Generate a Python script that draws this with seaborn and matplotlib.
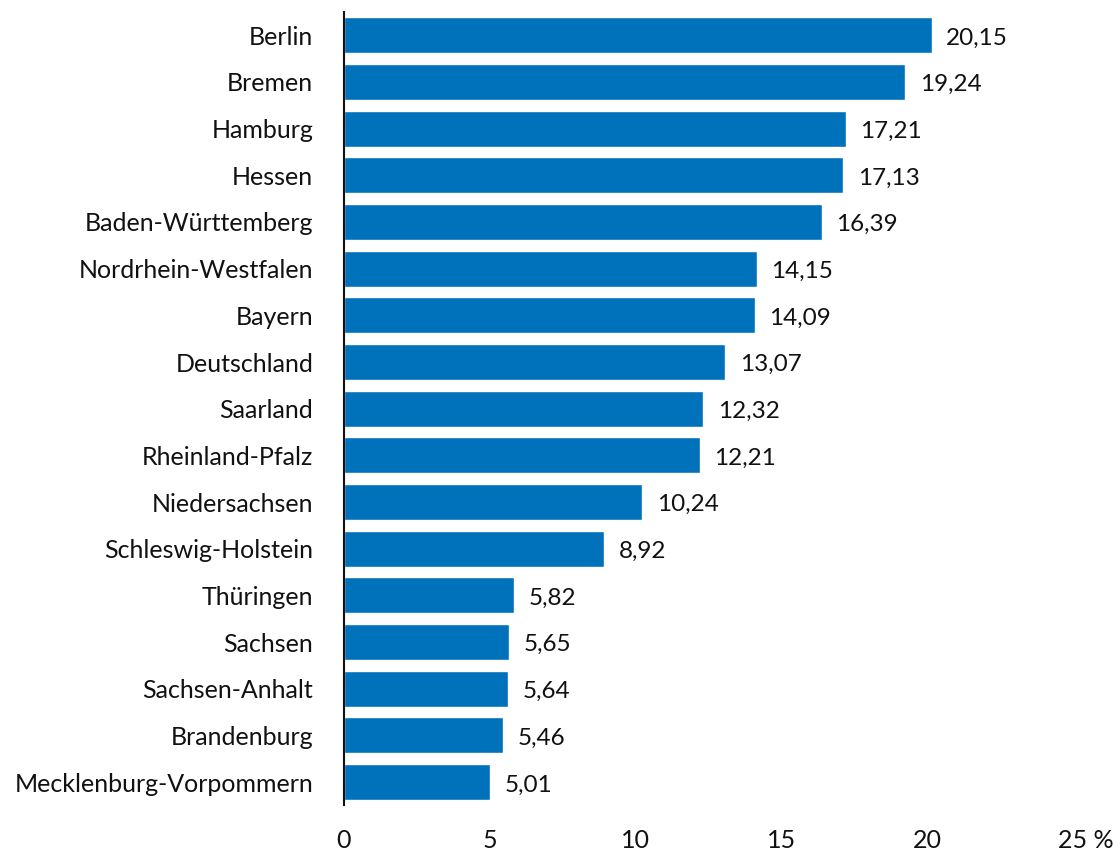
import pandas as pd
import matplotlib.pyplot as plt
import matplotlib.transforms as mtransforms
import seaborn as sns

# Anteil je Bundesland (Prozent)
laender = ['Berlin', 'Bremen', 'Hamburg', 'Hessen', 'Baden-Württemberg',
           'Nordrhein-Westfalen', 'Bayern', 'Deutschland', 'Saarland',
           'Rheinland-Pfalz', 'Niedersachsen', 'Schleswig-Holstein',
           'Thüringen', 'Sachsen', 'Sachsen-Anhalt', 'Brandenburg',
           'Mecklenburg-Vorpommern']
werte = [20.15, 19.24, 17.21, 17.13, 16.39, 14.15, 14.09, 13.07, 12.32,
         12.21, 10.24, 8.92, 5.82, 5.65, 5.64, 5.46, 5.01]
xticks = [0, 5, 10, 15, 20, 25]
xticklabels = ['0', '5', '10', '15', '20', '25 %']

df = pd.DataFrame({'land': laender, 'wert': werte})

sns.set_style('white')
plt.rcParams['font.family'] = ['Lato', 'DejaVu Sans']

fig = plt.figure(figsize=(11.2, 8.55), dpi=100)
ax = fig.add_axes([0.307, 0.058, 0.651, 0.928])

sns.barplot(data=df, x='wert', y='land', color='#0072bb', saturation=1,
            width=0.77, ax=ax)

for i, v in enumerate(werte):
    ax.annotate(f'{v:.2f}'.replace('.', ','), xy=(v, i), xytext=(10.5, -2),
                textcoords='offset points', va='center', ha='left',
                fontsize=17.5, color='#111111')

ax.set_xlim(0, 25)
ax.set_ylim(16.5, -0.5)
ax.set_xticks(xticks)
ax.set_xticklabels(xticklabels)
ax.set_xlabel('')
ax.set_ylabel('')
ax.tick_params(axis='x', length=0, pad=17, labelsize=18, colors='#111111')
ax.tick_params(axis='y', length=0, pad=22, labelsize=18, colors='#111111')

# the "%" hangs to the right of the last tick, "25" stays centred
last = ax.get_xticklabels()[-1]
last.set_transform(last.get_transform() +
                   mtransforms.ScaledTranslation(0.13, 0, fig.dpi_scale_trans))

for s in ['top', 'right', 'bottom']:
    ax.spines[s].set_visible(False)
ax.spines['left'].set_color('#111111')
ax.spines['left'].set_linewidth(1.5)

fig.savefig('out.png', dpi=100)
